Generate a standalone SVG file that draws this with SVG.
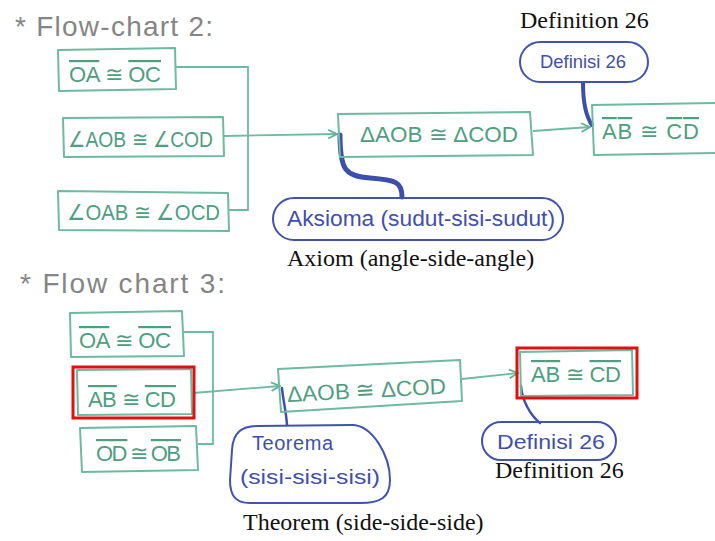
<svg xmlns="http://www.w3.org/2000/svg" width="715" height="541" viewBox="0 0 715 541">
<defs>
<marker id="arr" viewBox="0 0 10 10" refX="9" refY="5" markerWidth="11" markerHeight="11" markerUnits="userSpaceOnUse" orient="auto"><path d="M1,1 L9,5 L1,9" fill="none" stroke="#5fb396" stroke-width="1.6"/></marker>
<style>
.box{fill:none;stroke:#6cbba0;stroke-width:2;stroke-linejoin:round}
.gt{font-family:"Liberation Sans",Arial,sans-serif;font-size:22px;fill:#4e9e80}
.ol{text-decoration:overline}
.conn{fill:none;stroke:#6cbba0;stroke-width:1.8}
.bub{fill:none;stroke:#4252b0;stroke-width:2}
.bt{font-family:"Liberation Sans",Arial,sans-serif;fill:#3f4fae}
.blue{fill:none;stroke:#3c4fae;stroke-linecap:round}
.title{font-family:"Liberation Sans",Arial,sans-serif;font-size:28px;fill:#858585}
.cap{font-family:"Liberation Serif","Times New Roman",serif;font-size:24px;fill:#111}
.red{fill:none;stroke:#e01010;stroke-width:3}
</style>
</defs>
<rect width="715" height="541" fill="#fff"/>

<text class="title" x="15" y="36" textLength="198" lengthAdjust="spacing">* Flow-chart 2:</text>
<text class="title" x="20" y="293" textLength="205" lengthAdjust="spacing">* Flow chart 3:</text>

<g id="connectors">
<path class="conn" d="M176,67 L248,67 L248,210 L229,210"/>
<path class="conn" d="M224,136 L337,134" marker-end="url(#arr)"/>
<path class="conn" d="M533,131 L590,127" marker-end="url(#arr)"/>
<path class="blue" stroke-width="4" d="M583,83 C583,100 585,115 592,125"/>
<path class="blue" stroke-width="5" d="M402,197 C402,182 396,180 370,178 C345,176 340,170 340,135"/>
<path class="conn" d="M184,332 L213,332 L213,444 L198,444"/>
<path class="conn" d="M193,393 L280,386" marker-end="url(#arr)"/>
<path class="conn" d="M462,379 L518,373" marker-end="url(#arr)"/>
<path class="blue" stroke-width="2.5" d="M287,425 C286,410 283,400 282,388"/>
<path class="blue" stroke-width="2.5" d="M540,423 C530,415 522,400 521,386"/>
</g>

<g id="fc2-oa-oc">
<path class="box" d="M58,50 L175,48 L176,89 L59,91 Z"/>
<text class="gt" x="69" y="82" textLength="92" lengthAdjust="spacing"><tspan class="ol">OA</tspan> ≅ <tspan class="ol">OC</tspan></text>
</g>
<g id="fc2-aob-cod">
<path class="box" d="M63,118 L223,117 L224,156 L64,157 Z"/>
<text class="gt" x="68" y="147" textLength="145" lengthAdjust="spacingAndGlyphs">∠AOB ≅ ∠COD</text>
</g>
<g id="fc2-oab-ocd">
<path class="box" d="M58,191 L228,193 L229,231 L59,230 Z"/>
<text class="gt" x="67" y="220" textLength="153" lengthAdjust="spacingAndGlyphs">∠OAB ≅ ∠OCD</text>
</g>
<g id="fc2-triangles">
<path class="box" d="M338,114 L530,112 L533,155 L340,157 Z"/>
<text class="gt" x="360" y="142" textLength="158" lengthAdjust="spacingAndGlyphs">ΔAOB ≅ ΔCOD</text>
</g>
<g id="fc2-ab-cd">
<path class="box" d="M715,103 L592,105 L594,155 L715,153"/>
<text class="gt" x="602" y="139" textLength="97" lengthAdjust="spacing"><tspan class="ol">AB</tspan> ≅ <tspan class="ol">CD</tspan></text>
</g>
<g id="fc2-definisi">
<rect class="bub" x="520" y="42" width="128" height="40" rx="20"/>
<text class="bt" x="540" y="68" font-size="19" textLength="86" lengthAdjust="spacingAndGlyphs">Definisi 26</text>
<text class="cap" x="520" y="28">Definition 26</text>
</g>
<g id="fc2-aksioma">
<rect class="bub" x="273" y="198" width="290" height="42" rx="21"/>
<text class="bt" x="287" y="226" font-size="22" textLength="268" lengthAdjust="spacingAndGlyphs">Aksioma (sudut-sisi-sudut)</text>
<text class="cap" x="287" y="266">Axiom (angle-side-angle)</text>
</g>

<g id="fc3-oa-oc">
<path class="box" d="M70,313 L182,311 L184,356 L71,357 Z"/>
<text class="gt" x="79" y="348" textLength="92" lengthAdjust="spacing"><tspan class="ol">OA</tspan> ≅ <tspan class="ol">OC</tspan></text>
</g>
<g id="fc3-ab-cd">
<path class="box" d="M77,370 L191,369 L192,414 L78,415 Z"/>
<rect class="red" x="73" y="367" width="121" height="51"/>
<text class="gt" x="88" y="407" textLength="88" lengthAdjust="spacing"><tspan class="ol">AB</tspan> ≅ <tspan class="ol">CD</tspan></text>
</g>
<g id="fc3-od-ob">
<path class="box" d="M80,428 L196,426 L198,470 L82,472 Z"/>
<text class="gt" x="96" y="461" textLength="85" lengthAdjust="spacing"><tspan class="ol">OD</tspan> ≅ <tspan class="ol">OB</tspan></text>
</g>
<g id="fc3-triangles">
<path class="box" d="M278,369 L460,360 L462,401 L281,412 Z"/>
<text class="gt" x="287" y="398" textLength="159" lengthAdjust="spacingAndGlyphs" transform="rotate(-3 365 390)">ΔAOB ≅ ΔCOD</text>
</g>
<g id="fc3-ab-cd-result">
<path class="box" d="M520,352 L632,350 L633,395 L521,396 Z"/>
<rect class="red" x="517" y="348" width="120" height="50"/>
<text class="gt" x="531" y="382" textLength="90" lengthAdjust="spacing"><tspan class="ol">AB</tspan> ≅ <tspan class="ol">CD</tspan></text>
</g>
<g id="fc3-definisi">
<rect class="bub" x="482" y="422" width="134" height="38" rx="19"/>
<text class="bt" x="497" y="449" font-size="20" textLength="108" lengthAdjust="spacingAndGlyphs">Definisi 26</text>
<text class="cap" x="495" y="478">Definition 26</text>
</g>
<g id="fc3-teorema">
<path class="bub" d="M258,426 L352,425 C372,425 390,455 390,480 C390,498 380,503 360,503 L250,503 C235,503 230,495 230,480 L232,450 C233,432 242,426 258,426 Z"/>
<text class="bt" x="252" y="450" font-size="20" textLength="81" lengthAdjust="spacing">Teorema</text>
<text class="bt" x="240" y="484" font-size="21" textLength="140" lengthAdjust="spacingAndGlyphs">(sisi-sisi-sisi)</text>
<text class="cap" x="243" y="530">Theorem (side-side-side)</text>
</g>
</svg>
